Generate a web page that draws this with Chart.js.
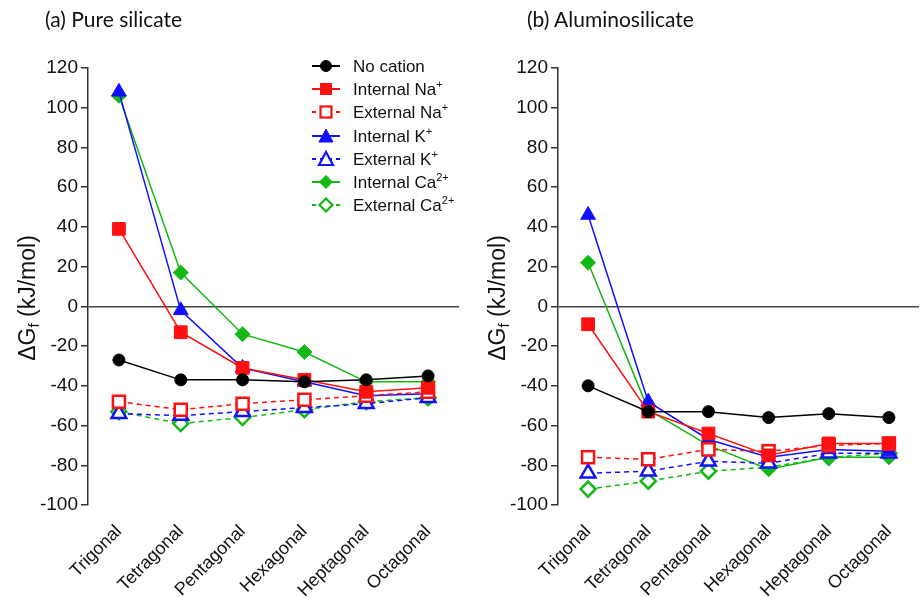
<!DOCTYPE html>
<html>
<head>
<meta charset="utf-8">
<script src="https://cdn.jsdelivr.net/npm/chart.js@4.4.0/dist/chart.umd.min.js"></script>
<style>
  body { margin: 0; width: 923px; height: 598px; overflow: hidden; background: #fff; position: relative; font-family: "Liberation Sans", Arial, sans-serif; color: #111; }
  canvas { position: absolute; top: 0; }
  #chartA { left: 0; }
  #chartB { left: 470px; }
  .title { position: absolute; top: 6px; font-family: Lato, "Open Sans", sans-serif; font-size: 21px; color: #111; white-space: nowrap; }
  .ytitle { position: absolute; width: 180px; height: 28px; line-height: 28px; text-align: center; font-size: 23px; color: #111; transform: rotate(-90deg); white-space: nowrap; }
  .ytitle sub { font-size: 15px; vertical-align: -4px; }
  #legend { position: absolute; left: 311px; top: 55px; font-size: 17px; }
  #legend div { height: 23.2px; line-height: 23.2px; white-space: nowrap; }
  #legend svg { vertical-align: middle; margin-right: 12px; margin-top: -3px; }
  #legend sup { font-size: 11px; vertical-align: 7px; line-height: 0; }
</style>
</head>
<body>
<canvas id="chartA" width="470" height="598"></canvas>
<canvas id="chartB" width="460" height="598"></canvas>
<div class="title" style="left:45px">(a) Pure silicate</div>
<div class="title" style="left:527px">(b) Aluminosilicate</div>
<div class="ytitle" style="left:-63px; top:284px">ΔG<sub>f</sub> (kJ/mol)</div>
<div class="ytitle" style="left:407px; top:284px">ΔG<sub>f</sub> (kJ/mol)</div>
<div id="legend"></div>
<script>
// categories (ring size)
var categories = ['Trigonal', 'Tetragonal', 'Pentagonal', 'Hexagonal', 'Heptagonal', 'Octagonal'];
var seriesNames = ['No cation', 'Internal Na', 'External Na', 'Internal K', 'External K', 'Internal Ca', 'External Ca'];
var seriesCharge = ['', '+', '+', '+', '+', '2+', '2+'];
var yMin = -100, yMax = 120, yStep = 20;

// (a) pure silicate, kJ/mol
var noCationA = [-27, -37, -37, -38, -37, -35];
var intNaA = [39, -13, -31, -37, -43, -41];
var extNaA = [-48, -52, -49, -47, -45, -43];
var intKA = [108, -2, -31, -38, -45, -44];
var extKA = [-54, -55, -53, -51, -49, -46];
var intCaA = [106, 17, -14, -23, -38, -38];
var extCaA = [-53, -59, -56, -52, -48, -46];

// (b) aluminosilicate, kJ/mol
var noCationB = [-40, -53, -53, -56, -54, -56];
var intNaB = [-9, -53, -64, -75, -69, -69];
var extNaB = [-76, -77, -72, -73, -70, -69];
var intKB = [46, -48, -67, -76, -72, -73];
var extKB = [-84, -83, -78, -79, -74, -74];
var intCaB = [22, -52, -70, -82, -76, -76];
var extCaB = [-92, -88, -83, -81, -76, -74];

var black = '#000000', red = '#ff1010', blue = '#1010ff', green = '#14b814';
var styles = [
  { color: black, shape: 'circle', r: 6, open: false },
  { color: red, shape: 'rect', r: 9, open: false },
  { color: red, shape: 'rect', r: 8.5, open: true },
  { color: blue, shape: 'triangle', r: 8.5, open: false },
  { color: blue, shape: 'triangle', r: 8.5, open: true },
  { color: green, shape: 'rectRot', r: 7.5, open: false },
  { color: green, shape: 'rectRot', r: 7.5, open: true }
];

function makeSets(list) {
  return list.map(function (vals, i) {
    var s = styles[i];
    return {
      label: seriesNames[i] + seriesCharge[i],
      data: vals,
      borderColor: s.color,
      borderWidth: 1.5,
      borderDash: s.open ? [5, 4] : [],
      pointStyle: s.shape,
      pointRadius: s.r,
      pointBackgroundColor: s.open ? '#ffffff' : s.color,
      pointBorderColor: s.color,
      pointBorderWidth: s.open ? 2.5 : 1,
      tension: 0,
      fill: false
    };
  });
}

var tickFont = { family: '"Liberation Sans", Arial, sans-serif', size: 19 };
var xFont = { family: '"Liberation Sans", Arial, sans-serif', size: 18 };

function makeOptions(rightPad) {
  return {
    responsive: false,
    animation: false,
    layout: { padding: { top: 68, right: rightPad, left: 0, bottom: 0 } },
    plugins: { legend: { display: false }, tooltip: { enabled: false } },
    scales: {
      x: {
        type: 'category',
        offset: true,
        grid: { display: false },
        border: { display: false },
        ticks: { minRotation: 45, maxRotation: 45, font: xFont, color: '#111', padding: 8 },
        afterFit: function (s) { s.height = 93; }
      },
      y: {
        min: yMin,
        max: yMax,
        ticks: { stepSize: yStep, font: tickFont, color: '#111', padding: 3 },
        grid: {
          color: function (c) { return c.tick && c.tick.value === 0 ? '#444' : 'rgba(0,0,0,0)'; },
          lineWidth: 1.5,
          tickColor: '#333',
          tickLength: 7,
          tickWidth: 1.5
        },
        border: { color: '#333', width: 1.5 },
        afterFit: function (s) { s.width = 88; }
      }
    }
  };
}

new Chart(document.getElementById('chartA'), {
  type: 'line',
  data: { labels: categories, datasets: makeSets([noCationA, intNaA, extNaA, intKA, extKA, intCaA, extCaA]) },
  options: makeOptions(9)
});

new Chart(document.getElementById('chartB'), {
  type: 'line',
  data: { labels: categories, datasets: makeSets([noCationB, intNaB, extNaB, intKB, extKB, intCaB, extCaB]) },
  options: makeOptions(0)
});

// legend with line + marker icons
function markerSvg(s) {
  var fill = s.open ? '#fff' : s.color;
  var sw = s.open ? 2.2 : 1;
  var m = '';
  if (s.shape === 'circle') m = '<circle cx="15" cy="9" r="5.5" fill="' + fill + '" stroke="' + s.color + '" stroke-width="' + sw + '"/>';
  if (s.shape === 'rect') m = '<rect x="9.5" y="3.5" width="11" height="11" fill="' + fill + '" stroke="' + s.color + '" stroke-width="' + sw + '"/>';
  if (s.shape === 'triangle') m = '<polygon points="15,2 22,15 8,15" fill="' + fill + '" stroke="' + s.color + '" stroke-width="' + sw + '"/>';
  if (s.shape === 'rectRot') m = '<polygon points="15,2.5 21.5,9 15,15.5 8.5,9" fill="' + fill + '" stroke="' + s.color + '" stroke-width="' + sw + '"/>';
  var dash = s.open ? ' stroke-dasharray="4,4"' : '';
  return '<svg width="30" height="18"><line x1="1" y1="9" x2="29" y2="9" stroke="' + s.color + '" stroke-width="2"' + dash + '/>' + m + '</svg>';
}
var html = '';
for (var i = 0; i < seriesNames.length; i++) {
  html += '<div>' + markerSvg(styles[i]) + seriesNames[i] + (seriesCharge[i] ? '<sup>' + seriesCharge[i] + '</sup>' : '') + '</div>';
}
document.getElementById('legend').innerHTML = html;
</script>
</body>
</html>
